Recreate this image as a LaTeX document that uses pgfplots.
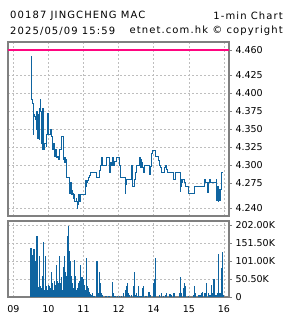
\documentclass[border=0pt]{standalone}
\usepackage{fontspec}
\setmainfont{DejaVu Sans}
\usepackage{pgfplots}
\pgfplotsset{compat=1.18}
\definecolor{lineblue}{RGB}{15,100,160}
\definecolor{framegray}{RGB}{128,128,128}
\definecolor{gridgray}{RGB}{190,190,190}
\definecolor{pinkline}{rgb}{1,0.02,0.5}
\newcommand{\hdr}{\fontsize{10}{12}\selectfont\addfontfeatures{LetterSpace=11}}
\begin{document}
\begin{tikzpicture}
\useasboundingbox (0,0) rectangle (285pt,-318pt);
\node[anchor=west,inner sep=0pt] at (10pt,-16pt) {\hdr 00187 JINGCHENG MAC};
\node[anchor=east,inner sep=0pt] at (283pt,-16pt) {\hdr 1-min Chart};
\node[anchor=west,inner sep=0pt] at (10pt,-31pt) {\hdr 2025/05/09 15:59};
\node[anchor=east,inner sep=0pt] at (283pt,-31pt) {\hdr etnet.com.hk © copyright};
\pgfplotsset{
  mystyle/.style={
    scale only axis, width=221pt,
    xmin=-0.151, xmax=6.145,
    xtick={0,1,2,3,4,5,6},
    grid=major,
    major grid style={gridgray, dash pattern=on 2pt off 2pt, line width=0.6pt},
    axis line style={framegray, line width=1.2pt},
    ytick pos=right, yticklabel pos=right,
    tick align=outside, major tick length=3pt,
    ytick style={framegray, line width=0.7pt},
    xtick style={draw=none},
    tick label style={font=\fontsize{9.5}{11}\selectfont},
    /pgf/number format/assume math mode=true,
    scaled y ticks=false,
  }
}
\begin{axis}[mystyle, at={(8pt,-42pt)}, anchor=north west, height=174pt,
  ymin=4.229, ymax=4.471,
  xticklabels={},
  ytick={4.240,4.275,4.300,4.325,4.350,4.375,4.400,4.425,4.460},
  yticklabels={4.240,4.275,4.300,4.325,4.350,4.375,4.400,4.425,4.460},
]
\addplot[draw=pinkline, line width=1.3pt, mark=none, forget plot] coordinates {
(-0.151,4.460) (6.145,4.460)
};
\addplot[const plot, draw=lineblue, line width=0.9pt, mark=none] coordinates {
(0.500,4.451) (0.505,4.391) (0.533,4.386) (0.560,4.342) (0.580,4.370)
(0.600,4.367) (0.628,4.363) (0.647,4.349) (0.660,4.374) (0.676,4.374)
(0.690,4.337) (0.704,4.370) (0.723,4.354) (0.742,4.335) (0.752,4.379)
(0.770,4.391) (0.785,4.374) (0.799,4.367) (0.810,4.330) (0.818,4.321)
(0.830,4.379) (0.845,4.374) (0.856,4.372) (0.870,4.321) (0.884,4.330)
(0.913,4.330) (0.932,4.326) (0.945,4.342) (0.960,4.344) (0.975,4.372)
(0.989,4.350) (1.005,4.342) (1.027,4.342) (1.046,4.349) (1.060,4.350)
(1.075,4.340) (1.103,4.335) (1.122,4.321) (1.140,4.330) (1.170,4.323)
(1.185,4.312) (1.198,4.312) (1.215,4.321) (1.236,4.310) (1.265,4.312)
(1.290,4.307) (1.312,4.321) (1.350,4.321) (1.375,4.340) (1.420,4.307)
(1.436,4.310) (1.455,4.303) (1.470,4.310) (1.483,4.303) (1.502,4.307)
(1.521,4.282) (1.578,4.282) (1.597,4.261) (1.615,4.275) (1.626,4.270)
(1.645,4.275) (1.660,4.259) (1.673,4.265) (1.690,4.261) (1.711,4.254)
(1.740,4.259) (1.755,4.249) (1.768,4.249) (1.790,4.254) (1.806,4.249)
(1.820,4.240) (1.835,4.245) (1.850,4.259) (1.863,4.249) (1.880,4.259)
(1.901,4.249) (1.915,4.259) (1.930,4.259) (2.040,4.259) (2.053,4.279)
(2.070,4.270) (2.091,4.275) (2.120,4.279) (2.148,4.282) (2.167,4.286)
(2.200,4.290) (2.262,4.290) (2.357,4.290) (2.376,4.282) (2.433,4.282)
(2.452,4.293) (2.490,4.300) (2.509,4.310) (2.528,4.300) (2.595,4.300)
(2.642,4.310) (2.718,4.310) (2.737,4.290) (2.756,4.303) (2.785,4.300)
(2.813,4.310) (2.851,4.300) (2.880,4.305) (2.927,4.310) (2.975,4.310)
(3.022,4.300) (3.060,4.282) (3.183,4.282) (3.190,4.260) (3.200,4.273)
(3.230,4.280) (3.354,4.280) (3.360,4.290) (3.373,4.300) (3.392,4.270)
(3.439,4.280) (3.470,4.290) (3.515,4.300) (3.563,4.300) (3.591,4.311)
(3.610,4.296) (3.620,4.311) (3.629,4.300) (3.640,4.308) (3.648,4.296)
(3.667,4.304) (3.686,4.296) (3.705,4.290) (3.734,4.300) (3.848,4.300)
(3.876,4.287) (3.895,4.298) (3.943,4.316) (3.971,4.320) (4.038,4.312)
(4.133,4.306) (4.161,4.300) (4.180,4.296) (4.209,4.290) (4.304,4.296)
(4.323,4.300) (4.370,4.294) (4.399,4.290) (4.513,4.290) (4.560,4.280)
(4.608,4.290) (4.731,4.290) (4.750,4.263) (4.769,4.275) (4.779,4.270)
(4.798,4.280) (4.815,4.275) (4.826,4.280) (4.864,4.275) (4.893,4.270)
(4.988,4.260) (5.130,4.260) (5.149,4.270) (5.415,4.270) (5.434,4.280)
(5.463,4.275) (5.529,4.275) (5.545,4.262) (5.558,4.275) (5.586,4.280)
(5.624,4.275) (5.748,4.275) (5.776,4.280) (5.790,4.265) (5.800,4.250)
(5.814,4.270) (5.833,4.249) (5.852,4.266) (5.871,4.250) (5.890,4.266)
(5.919,4.280) (5.938,4.290) (5.965,4.290)
};
\end{axis}
\begin{axis}[mystyle, at={(8pt,-221pt)}, anchor=north west, height=76pt,
  ymin=0, ymax=213000,
  xticklabels={09,10,11,12,14,15,16},
  xticklabel style={yshift=-2pt},
  ytick={0,50500,101000,151500,202000},
  yticklabels={0,50.50K,101.00K,151.50K,202.00K},
]
\addplot[ycomb, draw=lineblue, line width=1.1pt, mark=none] coordinates {
(0.503,136000) (0.532,119000) (0.560,65000) (0.589,135000) (0.617,100000)
(0.646,30000) (0.674,172000) (0.703,28000) (0.741,115000) (0.769,30000)
(0.798,25000) (0.826,58000) (0.855,155000) (0.883,20000) (0.912,115000)
(0.940,30000) (0.969,20000) (0.997,35000) (1.026,30000) (1.045,20000)
(1.070,25000) (1.092,70000) (1.121,40000) (1.140,20000) (1.168,45000)
(1.197,35000) (1.235,90000) (1.263,45000) (1.292,40000) (1.320,115000)
(1.349,40000) (1.377,55000) (1.406,20000) (1.434,85000) (1.462,115000)
(1.491,70000) (1.519,60000) (1.548,170000) (1.576,200000) (1.605,130000)
(1.633,100000) (1.662,60000) (1.690,40000) (1.719,25000) (1.747,105000)
(1.776,60000) (1.804,20000) (1.833,25000) (1.861,40000) (1.890,45000)
(1.918,90000) (1.947,55000) (1.975,55000) (2.004,50000) (2.032,35000)
(2.061,20000) (2.089,110000) (2.118,30000) (2.146,25000) (2.175,15000)
(2.203,8000) (2.232,5000) (2.260,10000) (2.298,3000) (2.384,100000)
(2.412,10000) (2.450,70000) (2.479,40000) (2.507,10000) (2.536,5000)
(2.621,2000) (2.659,2000) (2.707,2000) (2.735,2000) (2.821,42000)
(2.849,10000) (2.868,3000) (2.897,2000) (2.972,3000) (3.020,2000)
(3.086,3000) (3.134,10000) (3.210,20000) (3.229,30000) (3.257,40000)
(3.286,10000) (3.314,5000) (3.371,5000) (3.419,30000) (3.447,70000)
(3.466,5000) (3.514,10000) (3.542,3000) (3.571,30000) (3.609,3000)
(3.656,3000) (3.685,25000) (3.713,30000) (3.761,3000) (3.799,2000)
(3.865,15000) (3.913,5000) (3.989,40000) (4.017,50000) (4.046,110000)
(4.160,5000) (4.226,10000) (4.274,3000) (4.340,5000) (4.368,10000)
(4.463,8000) (4.501,5000) (4.558,10000) (4.596,10000) (4.748,10000)
(4.767,55000) (4.796,10000) (4.843,25000) (4.872,40000) (4.900,30000)
(4.995,3000) (5.128,5000) (5.157,30000) (5.185,10000) (5.271,5000)
(5.318,5000) (5.366,10000) (5.394,15000) (5.461,10000) (5.508,40000)
(5.556,10000) (5.603,5000) (5.651,35000) (5.679,10000) (5.717,50000)
(5.774,5000) (5.812,10000) (5.840,120000) (5.888,10000) (5.935,80000)
(5.964,125000) (5.992,5000)
};
\end{axis}
\end{tikzpicture}
\end{document}
